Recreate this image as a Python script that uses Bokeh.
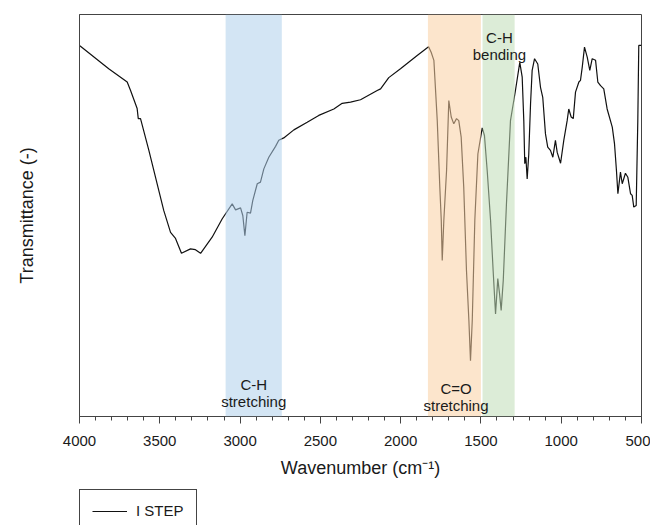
from bokeh.plotting import figure
from bokeh.layouts import column
from bokeh.models import Range1d, BoxAnnotation, Legend, LegendItem, FixedTicker
from bokeh.core.properties import value
from bokeh.embed import file_html
from bokeh.resources import INLINE

# ---- data ----
wavenumber = [4000, 3994, 3818, 3703, 3682, 3641, 3634, 3620, 3568, 3506, 3475, 3433, 3402,
              3365, 3309, 3278, 3246, 3174, 3111, 3049, 3028, 2997, 2983, 2970, 2956, 2935,
              2921, 2893, 2873, 2852, 2821, 2779, 2759, 2728, 2665, 2582, 2510, 2416, 2364,
              2312, 2250, 2146, 2125, 2074, 2001, 1897, 1826, 1810, 1793, 1772, 1756, 1747,
              1741, 1731, 1714, 1700, 1685, 1669, 1652, 1638, 1623, 1607, 1590, 1575, 1565,
              1554, 1538, 1519, 1492, 1478, 1461, 1440, 1424, 1409, 1395, 1384, 1374, 1361,
              1341, 1316, 1285, 1258, 1243, 1233, 1227, 1220, 1212, 1202, 1191, 1181, 1166,
              1146, 1129, 1115, 1098, 1084, 1067, 1052, 1036, 1025, 1004, 984, 963, 953, 938,
              925, 911, 890, 880, 869, 855, 838, 822, 807, 786, 772, 755, 735, 714, 682, 668,
              656, 647, 631, 620, 600, 585, 568, 558, 548, 533, 523, 517, 500]
transmittance = [92.3, 92.1, 86.5, 83.2, 81.1, 76.6, 74.1, 74.1, 66.2, 56.2, 51.2, 45.8, 44.3,
                 40.6, 41.7, 41.5, 40.6, 44.6, 49.2, 52.9, 51.4, 51.9, 50.0, 45.0, 50.8, 50.6,
                 53.7, 57.9, 58.3, 61.6, 64.5, 67.2, 68.7, 69.3, 71.3, 73.2, 74.9, 76.5, 77.9,
                 78.2, 78.8, 81.1, 81.5, 84.3, 86.5, 89.8, 92.0, 90.6, 88.6, 73.6, 57.0, 48.8,
                 38.8, 48.8, 61.2, 78.6, 74.5, 72.8, 74.1, 73.6, 69.5, 57.0, 36.3, 23.9, 13.9,
                 23.9, 48.8, 65.3, 71.8, 69.9, 61.2, 48.8, 36.3, 25.5, 34.3, 30.5, 26.4, 33.8,
                 52.9, 73.6, 81.1, 88.1, 84.4, 73.6, 62.9, 64.5, 59.1, 65.3, 77.8, 86.1, 89.0,
                 87.7, 81.9, 79.4, 70.3, 67.0, 66.2, 64.5, 68.7, 65.7, 63.0, 68.7, 73.6, 76.5, 74.5,
                 74.1, 80.7, 83.2, 83.6, 86.9, 91.9, 89.4, 86.1, 89.0, 88.6, 83.2, 82.3, 81.5, 76.5, 72.0, 67.8,
                 61.2, 55.4, 60.8, 57.9, 60.5, 59.5, 55.4, 55.0, 52.1, 52.5, 73.6, 92.3, 92.3]

band_left = [3090, 1830, 1490]
band_right = [2740, 1500, 1290]
band_colors = ["#afcfeb", "#facfa3", "#c0dcb6"]
band_label_top = ["C-H", "C=O", "C-H"]
band_label_bottom = ["stretching", "stretching", "bending"]

x_ticks = [4000, 3500, 3000, 2500, 2000, 1500, 1000, 500]
series_name = "I STEP"

FONT = "Liberation Sans"
LINE_COLOR = "#111111"
TEXT_COLOR = "#1a1a1a"

p = figure(width=650, height=489, output_backend="svg", toolbar_location=None,
           x_range=Range1d(4000, 500), y_range=Range1d(0, 100),
           min_border_left=79, min_border_right=9, min_border_top=14, min_border_bottom=73)

p.grid.visible = False
p.outline_line_color = "#444444"
p.outline_line_width = 1
p.background_fill_color = "white"
p.border_fill_color = "white"

line = p.line(wavenumber, transmittance, line_color=LINE_COLOR, line_width=1.2)

for l, r, c in zip(band_left, band_right, band_colors):
    p.add_layout(BoxAnnotation(left=l, right=r, fill_color=c, fill_alpha=0.55,
                               line_color=None))

# band labels
cx = [(band_left[0] + band_right[0]) / 2, 1655, 1385]
y_top = [8.0, 7.0, 94.3]
y_bot = [3.7, 2.7, 90.0]
p.text(x=cx, y=y_top, text=band_label_top, text_align="center", text_baseline="alphabetic",
       text_font=value(FONT), text_font_size="15px", text_color=TEXT_COLOR, level="overlay")
p.text(x=cx, y=y_bot, text=band_label_bottom, text_align="center", text_baseline="alphabetic",
       text_font=value(FONT), text_font_size="15px", text_color=TEXT_COLOR, level="overlay")

# x axis
xa = p.xaxis[0]
xa.ticker = FixedTicker(ticks=x_ticks, minor_ticks=list(range(500, 4001, 100)))
xa.axis_label = "Wavenumber (cm\u207b\u00b9)"
xa.axis_label_text_font = FONT
xa.axis_label_text_font_size = "18px"
xa.axis_label_text_font_style = "normal"
xa.axis_label_text_color = TEXT_COLOR
xa.axis_label_standoff = 9
xa.major_label_text_font = FONT
xa.major_label_text_font_size = "15px"
xa.major_label_text_color = TEXT_COLOR
xa.major_label_standoff = 12
xa.major_tick_in = 0
xa.major_tick_out = 7
xa.minor_tick_in = 0
xa.minor_tick_out = 4
xa.axis_line_color = "#444444"
xa.major_tick_line_color = "#444444"
xa.minor_tick_line_color = "#444444"

# y axis
ya = p.yaxis[0]
ya.ticker = FixedTicker(ticks=[])
ya.axis_label = "Transmittance (-)"
ya.axis_label_text_font = FONT
ya.axis_label_text_font_size = "18px"
ya.axis_label_text_font_style = "normal"
ya.axis_label_text_color = TEXT_COLOR
ya.major_label_standoff = 0
ya.axis_label_standoff = 43
ya.major_tick_out = 0
ya.major_tick_in = 0
ya.minor_tick_out = 0
ya.minor_tick_in = 0
ya.axis_line_color = "#444444"

# legend strip below the chart (key line kept outside its visible range)
pl = figure(width=650, height=36, output_backend="svg", toolbar_location=None,
            x_axis_type=None, y_axis_type=None, x_range=Range1d(0, 1), y_range=Range1d(0, 1),
            min_border_left=79, min_border_right=9, min_border_top=0, min_border_bottom=0)
pl.grid.visible = False
pl.outline_line_color = None
key = pl.line(x=[5, 6], y=[5, 6], line_color=LINE_COLOR, line_width=1.2)
legend = Legend(items=[LegendItem(label=series_name, renderers=[key])],
                location="top_left", padding=12, margin=0, glyph_width=35, glyph_height=16,
                label_height=16, label_standoff=9, label_text_font=FONT,
                label_text_font_size="15px", label_text_color=TEXT_COLOR,
                border_line_color="#444444", border_line_width=1, border_line_alpha=1.0,
                background_fill_alpha=1.0)
pl.add_layout(legend, "center")

layout = column(p, pl, spacing=0)
open("out.html", "w").write(file_html(layout, INLINE))
